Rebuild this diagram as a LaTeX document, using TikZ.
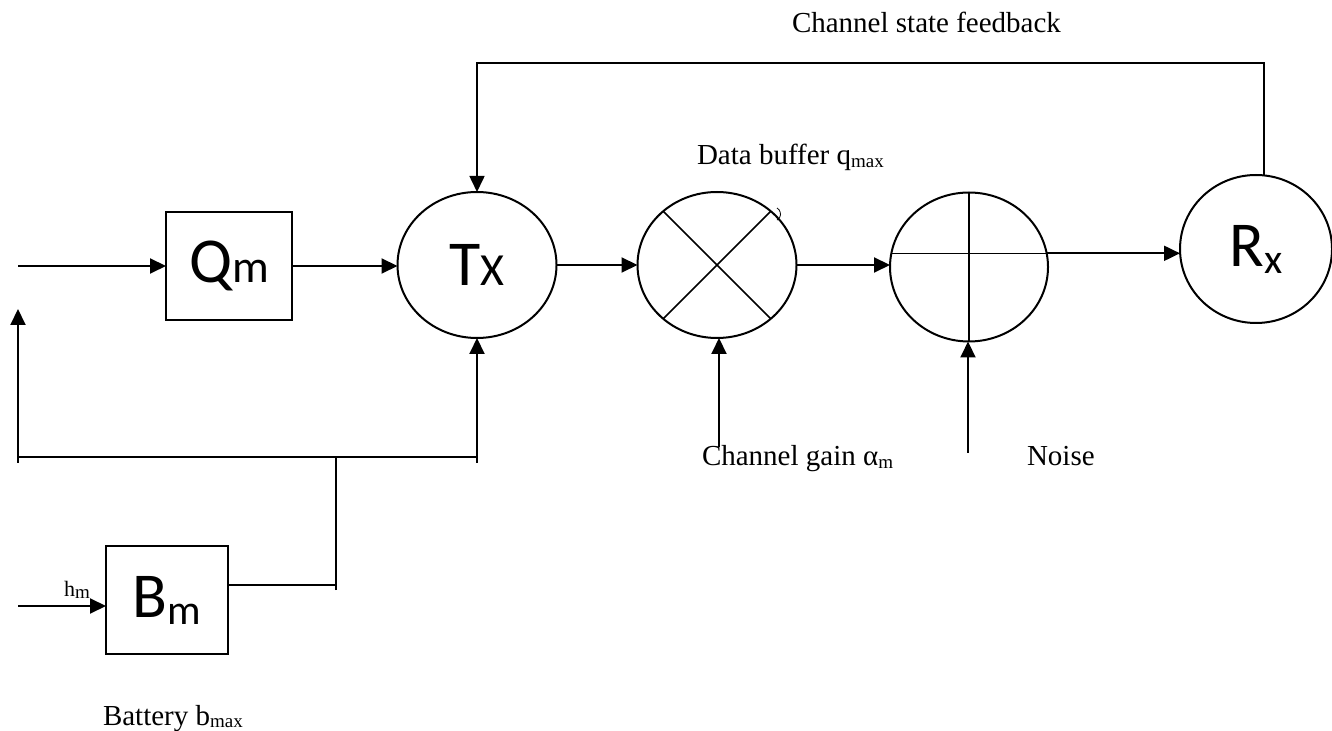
\documentclass[tikz,border=0pt]{standalone}
\usepackage{fontspec}
\setmainfont{Liberation Serif}
\newfontfamily\blkfont{Carlito}
\usetikzlibrary{arrows.meta,shapes.geometric}
\newcommand{\lf}{\fontsize{14.5}{16}\selectfont}
\newcommand{\blkf}{\blkfont\fontsize{32}{34}\selectfont}
\newcommand{\lsub}[1]{\raisebox{-1.2pt}{\fontsize{9.5}{10}\selectfont #1}}
\newcommand{\bsub}[1]{\raisebox{-3.5pt}{\fontsize{21}{22}\selectfont #1}}
\newcommand{\bsml}[1]{{\fontsize{23}{24}\selectfont #1}}
\begin{document}
\begin{tikzpicture}[x=0.5pt, y=-0.5pt, line width=1pt,
  every node/.style={inner sep=0pt, outer sep=0pt},
  arr/.style={-{Triangle[length=8pt,width=7.5pt]}},
  blk/.style={draw, rectangle, font=\blkf},
  unit/.style={draw, ellipse, font=\blkf},
  lbl/.style={anchor=base west, font=\lf},
  thinl/.style={line width=0.8pt}]
\useasboundingbox (0,0) rectangle (1332,731);
% ---- blocks
\node[blk, minimum width=63pt, minimum height=54pt] (qm) at (229,266) {Q\bsml{m}};
\node[blk, minimum width=61pt, minimum height=54pt] (bm) at (167,600) {B\bsub{m}};
\node[unit, minimum width=79.5pt, minimum height=73pt] (tx) at (477,265) {T\bsml{X}};
\node[unit, minimum width=79.5pt, minimum height=73pt] (mul) at (717,265) {};
\node[unit, minimum width=79pt, minimum height=74.5pt] (add) at (969,267) {};
\node[unit, minimum width=76pt, minimum height=74pt] (rx) at (1256,249) {R\bsub{x}};
% ---- mixer and adder marks
\draw[thinl] (mul.135) -- (mul.-45);
\draw[thinl] (mul.45) -- (mul.-135);
\draw[line width=0.4pt] (777,208) arc[start angle=60, end angle=-60, radius=3.5pt];
\draw[thinl] (add.north) -- (add.south);
% ---- free ends
\coordinate (in) at (18,266);
\coordinate (hin) at (18,606);
\coordinate (up) at (18,309);
\coordinate (busl) at (18,463);
\coordinate (busr) at (477,463);
\coordinate (bj) at (336,457);
\coordinate (bmj) at (336,590);
\coordinate (fbt) at (477,63);
\coordinate (cg) at (719,447);
\coordinate (nz) at (968,453);
% ---- signal path
\draw[arr] (in) -- (qm.west);
\draw[arr] (qm.east) -- (qm.east -| tx.west);
\draw[arr] (tx.east) -- (tx.east -| mul.west);
\draw[arr] (mul.east) -- (mul.east -| add.west);
\draw[thinl] (add.170) -- (add.10);
\draw[arr] (add.10) -- (add.10 -| rx.west);
\draw[arr, thinl] (rx.84) |- (fbt) -- (tx.north);
\draw[arr] (cg) -- (cg |- mul.south);
\draw[arr] (nz) -- (nz |- add.south);
% ---- battery bus
\draw[arr] (hin) -- (hin -| bm.west);
\draw ([yshift=7.5pt]bm.east) -- ([yshift=7.5pt]bm.east -| bmj);
\draw (bmj) -- (bj);
\draw (busl |- bj) -- (busr |- bj);
\draw[arr] (busl) -- (up);
\draw[arr] (busr) -- (tx.south);
% ---- labels
\node[lbl] (lfb) at (792,33) {Channel state feedback};
\node[lbl] (lbuf) at (697,165) {Data buffer q\lsub{max}};
\node[lbl] (lgain) at (702,466) {Channel gain α\lsub{m}};
\node[lbl] (lnz) at (1027,466) {Noise};
\node[lbl] (lbat) at (103,725) {Battery b\lsub{max}};
\node[anchor=base west, font=\fontsize{11}{12}\selectfont] (lh) at (64,596) {h\lsub{m}};
\end{tikzpicture}
\end{document}
